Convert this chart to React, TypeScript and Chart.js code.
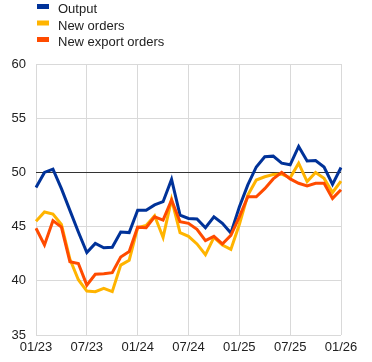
import React, { useEffect, useRef } from "react";
import { Chart, registerables } from "chart.js";

Chart.register(...registerables);

const categories = [
  "01/23", "02/23", "03/23", "04/23", "05/23", "06/23", "07/23", "08/23", "09/23", "10/23", "11/23", "12/23",
  "01/24", "02/24", "03/24", "04/24", "05/24", "06/24", "07/24", "08/24", "09/24", "10/24", "11/24", "12/24",
  "01/25", "02/25", "03/25", "04/25", "05/25", "06/25", "07/25", "08/25", "09/25", "10/25", "11/25", "12/25",
  "01/26",
];

const outputValues = [
  48.6, 50.0, 50.3, 48.5, 46.5, 44.5, 42.6, 43.45, 43.05, 43.1, 44.5, 44.45,
  46.5, 46.5, 47.0, 47.3, 49.35, 46.05, 45.75, 45.7, 44.9, 45.9, 45.3, 44.4,
  46.8, 48.85, 50.5, 51.45, 51.5, 50.85, 50.7, 52.4, 51.05, 51.1, 50.5, 48.9,
  50.45,
];

const newOrdersValues = [
  45.5, 46.35, 46.15, 45.2, 42.0, 40.1, 39.05, 39.0, 39.3, 39.0, 41.45, 41.9,
  44.9, 45.1, 46.0, 44.0, 47.5, 44.45, 44.1, 43.4, 42.4, 44.0, 43.3, 42.9,
  45.2, 47.9, 49.3, 49.6, 49.8, 49.85, 49.5, 50.85, 49.15, 50.0, 49.45, 48.15,
  49.2,
];

const newExportOrdersValues = [
  44.85, 43.3, 45.55, 44.95, 41.75, 41.6, 39.6, 40.6, 40.65, 40.75, 42.2, 42.7,
  44.95, 44.9, 45.9, 45.6, 47.45, 45.45, 45.3, 44.75, 43.7, 44.1, 43.4, 44.2,
  45.9, 47.75, 47.75, 48.5, 49.4, 50.0, 49.4, 49.0, 48.75, 49.0, 49.0, 47.6,
  48.4,
];

const seriesNames = ["Output", "New orders", "New export orders"];
const seriesColors = ["#003299", "#ffb400", "#ff4b00"];
const xTickLabels = ["01/23", "07/23", "01/24", "07/24", "01/25", "07/25", "01/26"];
const yTicks = [35, 40, 45, 50, 55, 60];

const FONT = "'Liberation Sans', Arial, sans-serif";

const legendPlugin = {
  id: "customLegend",
  afterDraw(chart: any) {
    const ctx = chart.ctx;
    ctx.save();
    ctx.font = `13px ${FONT}`;
    ctx.textBaseline = "middle";
    ctx.textAlign = "left";
    seriesNames.forEach((name, i) => {
      const cy = 9.5 + i * 16.5;
      ctx.fillStyle = seriesColors[i];
      ctx.fillRect(37, cy - 5.5, 12, 5);
      ctx.fillStyle = "#222";
      ctx.fillText(name, 58, cy);
    });
    ctx.restore();
  },
};

export default function App() {
  const ref = useRef<HTMLCanvasElement | null>(null);

  useEffect(() => {
    if (!ref.current) return;
    const values = [outputValues, newOrdersValues, newExportOrdersValues];
    const chart = new Chart(ref.current, {
      type: "line",
      data: {
        labels: categories,
        datasets: values.map((v, i) => ({
          label: seriesNames[i],
          data: v,
          borderColor: seriesColors[i],
          backgroundColor: seriesColors[i],
          borderWidth: 3,
          pointRadius: 0,
          pointHoverRadius: 0,
          tension: 0,
          fill: false,
          order: 3 - i,
        })),
      },
      options: {
        responsive: false,
        animation: false,
        events: [],
        layout: { padding: { top: 64, right: 31, left: 0, bottom: 0 } },
        plugins: {
          legend: { display: false },
          tooltip: { enabled: false },
          title: { display: false },
        },
        scales: {
          x: {
            type: "category",
            offset: false,
            border: { display: false },
            grid: {
              drawTicks: false,
              color: (c: any) => (xTickLabels.includes(categories[c.index]) ? "#d9d9d9" : "rgba(0,0,0,0)"),
              lineWidth: 1,
            },
            ticks: {
              autoSkip: false,
              maxRotation: 0,
              minRotation: 0,
              padding: 5,
              color: "#222",
              font: { family: FONT, size: 13 },
              callback: (_v: any, idx: number) =>
                xTickLabels.includes(categories[idx]) ? categories[idx] : "",
            },
            afterFit: (s: any) => {
              s.height = 27;
            },
          },
          y: {
            min: yTicks[0],
            max: yTicks[yTicks.length - 1],
            border: { display: false },
            grid: {
              drawTicks: false,
              color: (c: any) => (c.tick && c.tick.value === 50 ? "#333333" : "#d9d9d9"),
              lineWidth: 1,
            },
            afterBuildTicks: (s: any) => {
              s.ticks = yTicks.map((v) => ({ value: v }));
            },
            ticks: {
              padding: 10,
              color: "#222",
              font: { family: FONT, size: 13 },
            },
            afterFit: (s: any) => {
              s.width = 36;
            },
          },
        },
      },
      plugins: [legendPlugin],
    });
    return () => chart.destroy();
  }, []);

  return (
    <div style={{ position: "absolute", left: 0, top: 0, width: 372, height: 362, background: "#fff" }}>
      <canvas ref={ref} width={372} height={362} style={{ display: "block", width: 372, height: 362 }} />
    </div>
  );
}
